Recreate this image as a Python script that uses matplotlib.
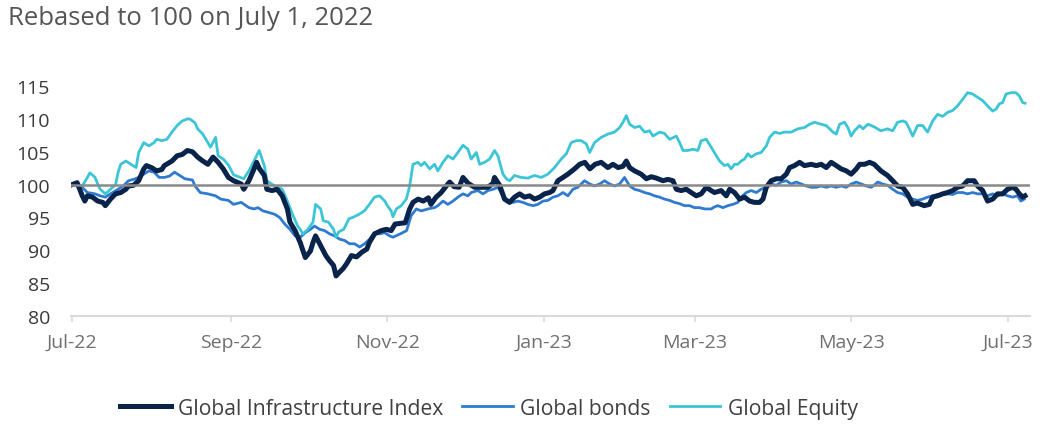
import numpy as np
import pandas as pd
import matplotlib
matplotlib.use("Agg")
import matplotlib.pyplot as plt

plt.rcParams["font.family"] = ["Open Sans", "DejaVu Sans"]

start = pd.Timestamp("2022-07-01")

# days after July 1, 2022 and rebased values
infra_days = [0, 2, 4, 5, 6, 8, 10, 12, 13, 15, 17, 19, 21, 22, 24, 26, 28, 29, 31, 33,
              35, 36, 39, 41, 43, 45, 47, 49, 51, 53, 55, 57, 59, 61, 63, 66, 67, 69, 71, 72,
              73, 75, 76, 78, 80, 82, 84, 85, 87, 89, 91, 93, 94, 95, 97, 99, 100.5, 102, 103, 104.4,
              105.7, 107, 109, 111, 113, 115, 116, 118, 120.6, 122.6, 124.5, 126, 130, 131.7, 133, 135, 137, 139, 140, 142,
              144, 146, 147.3, 149, 151, 152.5, 154.5, 157, 159.6, 162.2, 164.2, 164.8, 166.8, 168.7, 170.7, 172.6, 174.6, 176.5, 178.5, 180.4,
              182.4, 184.3, 186.3, 187.6, 189.5, 191.5, 193.4, 196, 198, 200, 202, 204, 206.4, 209, 211, 213, 214.9, 216.2, 217.5, 219.4,
              222, 224, 225.9, 227.9, 230.5, 232.4, 234.4, 235.7, 237.6, 239.6, 241.5, 243.5, 245.4, 247.4, 249.3, 250.6, 253.2, 255.2, 256.5, 258.4,
              260.4, 262.3, 264.3, 266.2, 268.2, 269.5, 270.8, 272.7, 274.7, 276.6, 278.6, 279.9, 281.8, 283.8, 285.7, 288.3, 290.3, 292.2, 294.2, 296.1,
              298.1, 300, 302, 303.9, 305.9, 307.2, 309.1, 311.1, 312.9, 315.5, 318.1, 320.1, 322, 324, 325.9, 327.9, 329.8, 332.4, 334.4, 335.7,
              337.6, 339.6, 341.5, 343.5, 345.4, 347.4, 349.3, 351.9, 353.2, 355.2, 357.1, 359.1, 361, 363, 364.9, 366.9, 368.2, 369.5, 370.8, 371.7]
infra_vals = [100.0, 100.3, 98.3, 97.5, 98.3, 98.1, 97.5, 97.3, 96.8, 97.8, 98.6, 98.8, 99.3, 99.8, 99.9, 100.6, 102.4, 102.9, 102.6, 102.1,
              102.3, 102.9, 103.6, 104.4, 104.6, 105.2, 105.0, 104.2, 103.6, 103.1, 104.2, 103.4, 102.4, 101.1, 100.6, 100.1, 99.3, 100.6, 102.4, 103.4,
              102.5, 101.4, 99.3, 99.1, 99.3, 98.3, 96.3, 94.3, 93.0, 91.2, 88.9, 89.9, 91.2, 92.2, 90.7, 89.2, 88.4, 87.7, 86.1, 86.7,
              87.2, 87.9, 89.2, 89.0, 89.7, 90.2, 91.2, 92.5, 93.0, 93.2, 93.0, 94.0, 94.2, 96.3, 97.3, 97.8, 97.5, 98.0, 97.0, 98.1,
              98.8, 99.8, 100.4, 99.7, 99.6, 101.1, 100.2, 99.6, 99.6, 99.6, 100.2, 101.1, 99.9, 97.8, 97.3, 98.1, 98.6, 98.1, 98.3, 97.8,
              98.1, 98.6, 98.8, 99.1, 100.6, 101.1, 101.6, 102.4, 103.1, 103.4, 102.4, 103.1, 103.4, 102.6, 103.1, 102.6, 102.8, 103.6, 102.6, 102.1,
              101.6, 100.9, 101.2, 101.0, 100.6, 100.8, 100.6, 99.3, 99.1, 99.3, 98.8, 98.3, 98.6, 99.6, 99.1, 98.8, 99.1, 98.3, 99.3, 98.8,
              97.8, 98.1, 97.5, 97.3, 97.3, 97.8, 99.6, 100.6, 100.9, 100.9, 101.6, 102.6, 102.9, 103.4, 102.9, 103.1, 102.9, 103.1, 102.6, 103.4,
              102.9, 102.4, 102.1, 101.6, 102.4, 103.1, 103.1, 103.4, 103.1, 102.1, 101.4, 100.6, 99.8, 99.6, 98.6, 97.0, 97.2, 96.8, 97.0, 98.1,
              98.3, 98.6, 98.8, 99.1, 99.6, 99.8, 100.6, 100.6, 99.8, 99.1, 97.5, 97.8, 98.6, 98.6, 99.3, 99.6, 99.3, 98.6, 98.1, 98.3]

bonds_days = [0, 4, 6, 9, 11, 13, 15, 18, 20, 22, 24, 26, 28, 30, 32, 34, 36, 38, 40, 42,
              44, 47, 48, 50, 53, 56, 58, 61, 63, 66, 69, 71, 72.5, 74.5, 76.4, 79, 81, 83, 85, 87,
              89, 91, 93, 94.6, 96.6, 98.5, 100.5, 102.4, 104.4, 106.3, 108.3, 110.2, 112.2, 114.1, 116.1, 118, 120, 121.9, 123.9, 125.2,
              128, 130.5, 132.3, 134.3, 136.2, 138.8, 141.4, 142.7, 144.7, 146.6, 148.6, 150.5, 152.5, 154.4, 155.7, 158.3, 160.3, 162.2, 164.2, 166.1,
              168.1, 170, 172, 173.9, 175.9, 177.8, 179.8, 181.7, 183.7, 185.6, 187.6, 189.5, 191.5, 193.4, 195.4, 197.3, 199.9, 201.9, 203.8, 205.8,
              207.7, 209.7, 211.6, 213.6, 215.5, 217.5, 219.4, 221.4, 223.3, 225.3, 227.2, 229.2, 231.1, 233.1, 235, 237, 238.9, 240.9, 242.8, 244.8,
              246.7, 249.3, 250.5, 251.9, 253.9, 255.8, 257.8, 259.7, 261, 263, 264.9, 266.9, 268.8, 270.8, 272.7, 274.7, 276.6, 278.6, 280.5, 282.5,
              284.4, 286.4, 288.3, 290.3, 292.2, 294.2, 296.1, 298.1, 300, 302, 303.9, 305.9, 307.8, 309.8, 311.7, 312.9, 314.2, 316.2, 318.1, 320.1,
              322, 324, 325.9, 327.9, 329.8, 331.8, 333.7, 335.7, 337.6, 339.6, 341.5, 343.5, 345.4, 347.4, 349.3, 351.3, 353.2, 355.2, 357.1, 359.1,
              361, 363, 364.9, 366.9, 368.8, 370.1, 371.4]
bonds_vals = [100.0, 99.6, 98.8, 98.6, 98.3, 98.1, 98.6, 99.3, 99.8, 100.6, 100.8, 101.1, 101.6, 102.1, 101.9, 101.1, 101.1, 101.3, 101.9, 101.4,
              100.9, 100.7, 99.8, 98.8, 98.6, 98.3, 97.8, 97.6, 97.0, 97.3, 96.5, 96.3, 96.5, 96.0, 95.8, 95.5, 95.0, 94.0, 93.2, 92.2,
              92.0, 92.7, 93.2, 93.7, 93.2, 93.0, 92.5, 92.2, 91.7, 91.5, 91.0, 91.0, 90.5, 91.0, 91.7, 92.7, 92.5, 92.7, 92.2, 92.0,
              92.5, 93.0, 95.3, 96.3, 96.0, 96.3, 96.5, 96.8, 97.5, 97.0, 97.5, 98.1, 98.6, 98.3, 98.8, 99.1, 98.6, 99.1, 99.3, 99.6,
              98.3, 97.5, 97.3, 97.5, 97.3, 97.0, 96.8, 97.0, 97.5, 97.6, 98.1, 98.3, 98.8, 98.3, 99.3, 99.6, 100.6, 100.1, 99.8, 100.1,
              100.6, 100.1, 99.8, 100.1, 101.1, 99.8, 99.3, 99.1, 98.8, 98.6, 98.3, 98.1, 97.8, 97.6, 97.3, 97.1, 96.8, 96.8, 96.5, 96.5,
              96.3, 96.3, 96.6, 96.8, 96.5, 96.8, 97.0, 97.3, 98.1, 98.8, 99.1, 98.8, 99.3, 99.6, 100.1, 99.9, 100.4, 100.6, 100.1, 100.4,
              100.1, 99.8, 99.6, 99.6, 99.8, 99.6, 99.8, 99.6, 99.8, 99.6, 100.1, 100.4, 100.1, 99.8, 99.6, 99.9, 100.4, 100.1, 99.9, 99.3,
              98.8, 98.6, 98.1, 97.8, 97.6, 97.8, 98.1, 98.3, 98.5, 98.5, 98.6, 98.5, 98.8, 98.8, 98.6, 98.8, 98.6, 98.6, 98.3, 98.6,
              98.3, 98.6, 98.3, 98.1, 98.3, 97.5, 97.8]

equity_days = [0, 4, 6, 7, 9, 10, 11, 13, 15, 17, 18, 19, 21, 23, 25, 26, 28, 30, 32, 33,
               35, 37, 39, 41, 43, 45, 46, 48, 49, 51, 53, 54, 56, 57, 59, 61, 63, 67, 69, 71,
               73, 75, 76, 79, 82, 84, 86, 88, 89, 90, 92, 94, 95, 97, 98, 100, 102, 103, 104, 106,
               108, 110, 112, 114, 116, 118, 120, 122, 123, 124.5, 125.2, 126.5, 128.4, 130.4, 131.7, 133, 134.9, 136.2, 137.5, 139.5,
               141.4, 142.7, 144.7, 146.6, 148.6, 150.5, 152.5, 154.4, 155.7, 157.7, 159, 160.9, 162.9, 164.8, 166.1, 168.1, 169.4, 170.7, 172.6, 175.2,
               177.8, 180.4, 183, 185.6, 188.2, 190.8, 192.8, 194.7, 196.7, 198.6, 200.6, 201.9, 203.8, 206.4, 209, 211.6, 213.6, 214.9, 216.2, 217.5,
               219.4, 221.4, 223.3, 225.3, 226.6, 229.2, 231.1, 233.1, 235.7, 237, 238.3, 240.2, 242.2, 244.1, 245.4, 247.4, 249.3, 251.3, 252.6, 254.5,
               255.8, 257.1, 258.4, 259.7, 261, 262.3, 263.6, 264.9, 266.9, 268.8, 270.8, 272.1, 274, 276, 277.9, 280.5, 283.1, 285.7, 287.7, 289.6,
               292.2, 294.2, 296.8, 298.1, 299.4, 301.3, 302.6, 303.9, 305.2, 307.2, 308.5, 310.4, 312.9, 315.5, 318.1, 320.1, 322, 324, 325.3, 326.6,
               327.9, 329.8, 331.8, 333.7, 335.7, 337.6, 339.6, 341.5, 343.5, 345.4, 347.4, 349.3, 351.3, 353.2, 355.2, 357.1, 359.1, 360.4, 361.7, 363,
               364.3, 366.2, 368.2, 369.5, 370.8, 371.7]
equity_vals = [100.0, 99.8, 101.1, 101.8, 101.1, 100.1, 99.3, 98.6, 99.3, 100.0, 101.9, 103.1, 103.6, 103.1, 102.6, 104.9, 106.4, 105.9, 106.4, 106.9,
               106.7, 106.9, 108.0, 109.0, 109.7, 110.0, 110.0, 109.4, 108.5, 107.7, 106.4, 105.7, 107.2, 104.4, 103.9, 103.0, 101.5, 100.9, 102.1, 103.6,
               105.2, 102.9, 100.6, 99.8, 99.3, 97.5, 95.5, 93.7, 93.2, 92.5, 93.2, 94.3, 97.0, 96.3, 94.5, 94.3, 93.2, 92.0, 92.8, 93.2,
               94.8, 95.1, 95.5, 96.0, 97.0, 98.1, 98.3, 97.5, 96.8, 96.0, 95.1, 96.3, 96.8, 97.8, 99.8, 103.1, 103.4, 102.9, 103.4, 102.4,
               103.1, 102.1, 103.4, 104.4, 103.9, 104.9, 106.0, 105.4, 103.9, 104.9, 103.1, 103.4, 103.9, 105.2, 104.4, 101.6, 100.9, 100.6, 101.4, 101.1,
               101.0, 101.4, 101.1, 101.6, 102.6, 103.9, 104.7, 106.4, 106.7, 106.7, 106.2, 104.9, 106.4, 107.2, 107.7, 108.0, 108.7, 109.5, 110.5, 109.2,
               108.7, 108.9, 108.0, 108.2, 107.4, 108.0, 107.8, 106.9, 107.4, 106.4, 105.2, 105.2, 105.4, 105.2, 106.7, 106.9, 105.7, 104.4, 103.6, 102.9,
               103.1, 102.4, 103.1, 103.1, 103.6, 103.9, 104.7, 104.2, 104.7, 104.9, 105.9, 107.2, 108.0, 107.8, 108.0, 108.0, 108.5, 108.7, 109.2, 109.5,
               109.2, 109.0, 108.0, 107.7, 109.2, 109.5, 108.7, 107.4, 108.2, 109.0, 108.5, 109.2, 108.8, 108.2, 108.5, 108.2, 109.5, 109.7, 109.5, 108.5,
               107.4, 109.0, 109.0, 108.0, 109.7, 110.7, 110.4, 111.0, 111.3, 112.0, 113.0, 114.0, 113.8, 113.3, 112.8, 112.0, 111.2, 111.5, 112.3, 112.5,
               113.8, 114.0, 114.0, 113.5, 112.5, 112.4]

tick_dates = ["2022-07-01", "2022-09-01", "2022-11-01", "2023-01-01", "2023-03-01", "2023-05-01", "2023-07-01"]
tick_labels = ["Jul-22", "Sep-22", "Nov-22", "Jan-23", "Mar-23", "May-23", "Jul-23"]
y_ticks = [80, 85, 90, 95, 100, 105, 110, 115]


def to_dates(days):
    return start + pd.to_timedelta(np.array(days) * 86400, unit="s")


fig = plt.figure(figsize=(10.4, 4.27), dpi=100)
ax = fig.add_axes([0.068, 0.2576, 0.922, 0.546])

ax.plot(to_dates(infra_days), infra_vals, color="#0a234b", lw=3.6, label="Global Infrastructure Index", zorder=3)
ax.plot(to_dates(bonds_days), bonds_vals, color="#2f7bd0", lw=2.0, label="Global bonds", zorder=2)
ax.plot(to_dates(equity_days), equity_vals, color="#3cc5d6", lw=2.0, label="Global Equity", zorder=2.5)
ax.axhline(100, color="#8a8a8a", lw=1.8, zorder=4)

ax.set_ylim(80, 115.5)
ax.set_xlim(start - pd.Timedelta(days=0.5), start + pd.Timedelta(days=373.5))
ax.set_yticks(y_ticks)
ax.set_xticks(pd.to_datetime(tick_dates))
ax.set_xticklabels(tick_labels)

for s in ["top", "right", "left"]:
    ax.spines[s].set_visible(False)
ax.spines["bottom"].set_color("#d9d9d9")
ax.spines["bottom"].set_linewidth(1.5)
ax.tick_params(axis="y", length=0, pad=15, labelsize=14, labelcolor="#3a3a3a")
ax.tick_params(axis="x", length=4, width=1.2, color="#d9d9d9", pad=8, labelsize=14, labelcolor="#707070")

fig.text(0.008, 0.956, "Rebased to 100 on July 1, 2022", fontsize=18.5, color="#555555", va="center", ha="left")

fig.legend(loc="center", bbox_to_anchor=(0.47, 0.042), ncol=3, frameon=False, fontsize=15.2,
           handlelength=2.4, handletextpad=0.35, columnspacing=0.9, labelcolor="#404040")

fig.savefig("out.png", dpi=100)
plt.close(fig)
